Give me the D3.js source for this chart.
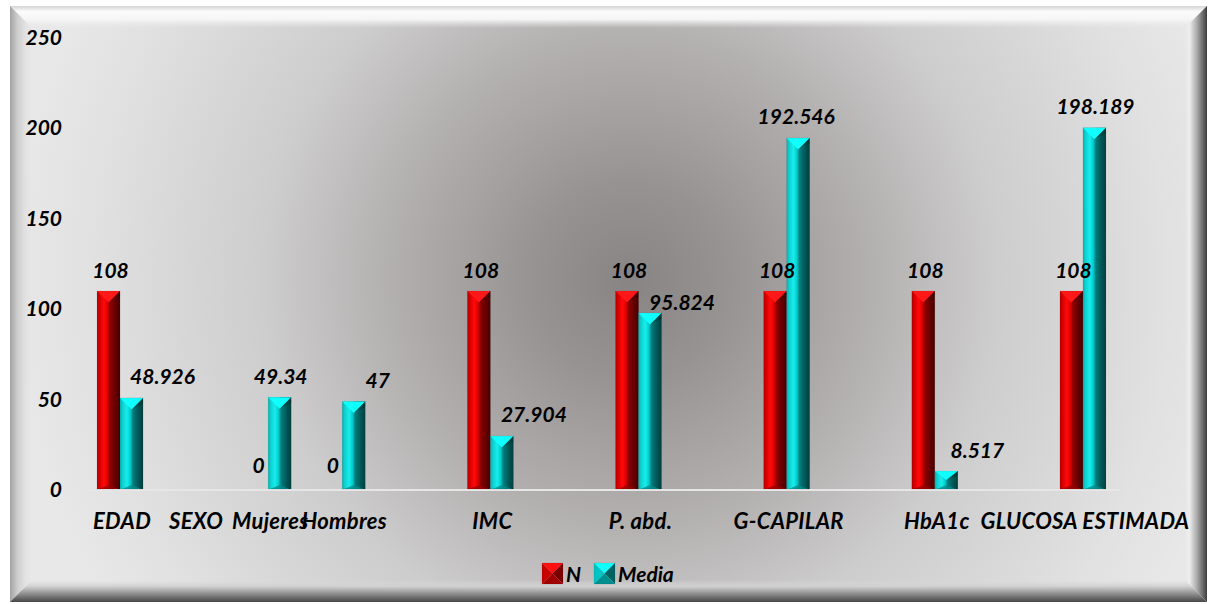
<!DOCTYPE html>
<html>
<head>
<meta charset="utf-8">
<script src="https://cdn.jsdelivr.net/npm/d3@7"></script>
<style>
  html, body { margin: 0; padding: 0; background: #ffffff; }
  svg { display: block; }
  text { font-family: Lato, "Open Sans", sans-serif; font-weight: 700; font-style: italic; fill: #000; }
</style>
</head>
<body>
<svg id="chart" width="1208" height="604"></svg>
<script>
// Categories along the x axis (empty strings are spacer slots)
const categories = ["EDAD", "SEXO", "Mujeres", "Hombres", "", "IMC", "", "P. abd.", "", "G-CAPILAR", "", "HbA1c", "", "GLUCOSA ESTIMADA"];
// Series values
const nValues     = [108, null, 0, 0, null, 108, null, 108, null, 108, null, 108, null, 108];
const mediaValues = [48.926, null, 49.34, 47, null, 27.904, null, 95.824, null, 192.546, null, 8.517, null, 198.189];
const seriesNames = ["N", "Media"];
const yTicks = [0, 50, 100, 150, 200, 250];

// Hand-placed offsets for the "Media" value labels (dx, dy in px)
const mediaLabelNudge = [[30, 0], [0, 0], [0, 0], [23, 0], [0, 0], [31, 0], [0, 0], [31, 10], [0, 0], [-3, 0], [0, 0], [30, 0], [0, 0], [0, 0]];

const W = 1208, H = 604;
const svg = d3.select("#chart");
const defs = svg.append("defs");

// ---- frame and background ----
function linGrad(id, x1, y1, x2, y2, stops) {
  const g = defs.append("linearGradient").attr("id", id)
    .attr("x1", x1).attr("y1", y1).attr("x2", x2).attr("y2", y2);
  stops.forEach(s => g.append("stop").attr("offset", s[0]).attr("stop-color", s[1]));
  return g;
}

const bg = defs.append("radialGradient").attr("id", "bgRad")
  .attr("gradientUnits", "userSpaceOnUse")
  .attr("cx", 630).attr("cy", 280).attr("r", 620);
[[0, "#888484"], [0.16, "#979393"], [0.26, "#a4a0a0"], [0.4, "#b4b1b1"], [0.59, "#cecdcd"], [0.87, "#e1e1e1"], [1, "#e8e8e8"]]
  .forEach(s => bg.append("stop").attr("offset", s[0]).attr("stop-color", s[1]));

const L = 10, T = 6, R = 1207, B = 602, bw = 22;
svg.append("rect").attr("x", L).attr("y", T).attr("width", R - L).attr("height", B - T).attr("fill", "url(#bgRad)");

linGrad("bevTop", 0, 0, 0, 1, [[0, "#d4d4d4"], [0.25, "#fbfbfb"], [0.6, "#f6f6f6"], [1, "rgba(236,236,236,0)"]]);
linGrad("bevLeft", 0, 0, 1, 0, [[0, "#a2a2a2"], [0.35, "#cfcfcf"], [0.7, "#e2e2e2"], [1, "rgba(228,228,228,0)"]]);
linGrad("bevRight", 0, 0, 1, 0, [[0, "rgba(236,236,236,0)"], [0.2, "#eeeeee"], [0.55, "#a8a8a8"], [1, "#3e3e3e"]]);
linGrad("bevBottom", 0, 0, 0, 1, [[0, "rgba(220,220,220,0)"], [0.3, "#cfcfcf"], [0.65, "#8a8a8a"], [1, "#464646"]]);

const poly = pts => pts.map(p => p.join(",")).join(" ");
svg.append("polygon").attr("points", poly([[L, T], [R, T], [R - bw, T + bw], [L + bw, T + bw]])).attr("fill", "url(#bevTop)");
svg.append("polygon").attr("points", poly([[L, T], [L + bw, T + bw], [L + bw, B - bw], [L, B]])).attr("fill", "url(#bevLeft)");
svg.append("polygon").attr("points", poly([[R, T], [R, B], [R - bw, B - bw], [R - bw, T + bw]])).attr("fill", "url(#bevRight)");
svg.append("polygon").attr("points", poly([[L, B], [L + bw, B - bw], [R - bw, B - bw], [R, B]])).attr("fill", "url(#bevBottom)");

// ---- scales ----
const x = d3.scaleBand().domain(d3.range(categories.length)).range([83, 1120]).paddingInner(0).paddingOuter(0);
const y = d3.scaleLinear().domain([0, 250]).range([489, 36.5]);
const barW = 23;
const cap = 2.5; // bevel cap rises slightly above the value line

// ---- axis line ----
svg.append("line").attr("x1", 83).attr("x2", 1120).attr("y1", y(0) + 1).attr("y2", y(0) + 1)
  .attr("stroke", "#e6e6e6").attr("stroke-width", 2);

// ---- y tick labels ----
const yAxis = d3.axisLeft(y).tickValues(yTicks).tickSize(0).tickPadding(0);
const gy = svg.append("g").attr("transform", "translate(62,0)").call(yAxis);
gy.select(".domain").remove();
gy.selectAll("text").attr("font-size", 21).attr("dy", "0.32em").attr("y", 1)
  .style("font-family", "Lato, 'Open Sans', sans-serif").style("font-weight", 700).style("font-style", "italic").attr("fill", "#000");

// ---- x category labels ----
const xAxis = d3.axisBottom(x).tickFormat(i => categories[i]).tickSize(0).tickPadding(0);
const gx = svg.append("g").attr("transform", "translate(2,521)").call(xAxis);
gx.select(".domain").remove();
gx.selectAll("text").attr("font-size", 22).attr("y", 0).attr("dy", "0.36em").style("letter-spacing", "0.3px")
  .style("font-family", "Lato, 'Open Sans', sans-serif").style("font-weight", 700).style("font-style", "italic").attr("fill", "#000");

// ---- bar gradients ----
const palettes = {
  red: {
    face: [[0, "#b20000"], [0.12, "#d80000"], [0.3, "#ff0a0a"], [0.45, "#e00000"], [0.56, "#8e0000"], [0.82, "#620000"], [1, "#480000"]],
    top: "#ff1818", bottom: "#9a0000",
    box: { top: "#ff1010", left: "#c80000", right: "#7a0000", bottom: "#a00000" }
  },
  cyan: {
    face: [[0, "#00b4b4"], [0.12, "#10d2d2"], [0.3, "#18ecec"], [0.45, "#00cccc"], [0.56, "#007c7c"], [0.82, "#005454"], [1, "#003e3e"]],
    top: "#10ffff", bottom: "#008c8c",
    box: { top: "#10ffff", left: "#00c4c4", right: "#006262", bottom: "#009090" }
  }
};
Object.entries(palettes).forEach(([k, p]) => linGrad("face-" + k, 0, 0, 1, 0, p.face));

function drawBar(g, x0, v, pal) {
  const p = palettes[pal];
  const yb = y(0), yt = y(v) - cap, xc = x0 + barW / 2, b = Math.min(barW / 2, (yb - yt) / 2);
  g.append("rect").attr("x", x0).attr("y", yt).attr("width", barW).attr("height", yb - yt).attr("fill", "url(#face-" + pal + ")");
  g.append("polygon").attr("points", poly([[x0, yt], [x0 + barW, yt], [xc, yt + b]])).attr("fill", p.top);
  g.append("polygon").attr("points", poly([[x0 + barW / 2, yt + b], [x0 + barW, yt], [x0 + barW, yt + b * 0.5]]))
    .attr("fill", "rgba(0,0,0,0.18)");
  const bb = Math.min(4, b);
  g.append("polygon").attr("points", poly([[x0 + 2, yb], [x0 + barW - 2, yb], [xc, yb - bb]])).attr("fill", p.bottom).attr("opacity", 0.8);
  g.append("rect").attr("x", x0).attr("y", yt).attr("width", barW).attr("height", yb - yt)
    .attr("fill", "none").attr("stroke", "rgba(0,0,0,0.12)").attr("stroke-width", 0.6);
}

const bars = svg.append("g");
categories.forEach((c, i) => {
  const cx = x(i) + x.bandwidth() / 2;
  if (nValues[i] !== null && nValues[i] > 0) drawBar(bars, cx - barW, nValues[i], "red");
  if (mediaValues[i] !== null) drawBar(bars, cx, mediaValues[i], "cyan");
});

// ---- value labels ----
const labels = svg.append("g");
categories.forEach((c, i) => {
  const cx = x(i) + x.bandwidth() / 2;
  if (nValues[i] !== null) {
    labels.append("text").attr("x", cx - barW / 2 + 2).attr("y", y(nValues[i]) - 16)
      .attr("text-anchor", "middle").attr("font-size", 21).text(d3.format("~g")(nValues[i]));
  }
  if (mediaValues[i] !== null) {
    const [dx, dy] = mediaLabelNudge[i];
    labels.append("text").attr("x", cx + barW / 2 + 1 + dx).attr("y", y(mediaValues[i]) - 16 + dy)
      .attr("text-anchor", "middle").attr("font-size", 21).text(String(mediaValues[i]));
  }
});

// ---- legend ----
function legendBox(g, x0, y0, s, pal) {
  const c = palettes[pal].box, xc = x0 + s / 2, yc = y0 + s / 2;
  g.append("polygon").attr("points", poly([[x0, y0], [x0 + s, y0], [xc, yc]])).attr("fill", c.top);
  g.append("polygon").attr("points", poly([[x0, y0], [xc, yc], [x0, y0 + s]])).attr("fill", c.left);
  g.append("polygon").attr("points", poly([[x0 + s, y0], [x0 + s, y0 + s], [xc, yc]])).attr("fill", c.right);
  g.append("polygon").attr("points", poly([[x0, y0 + s], [x0 + s, y0 + s], [xc, yc]])).attr("fill", c.bottom);
  g.append("rect").attr("x", x0).attr("y", y0).attr("width", s).attr("height", s).attr("fill", "none")
    .attr("stroke", "rgba(0,0,0,0.15)").attr("stroke-width", 0.6);
}
const legend = svg.append("g");
const legendItems = [{ name: seriesNames[0], pal: "red", bx: 542, tx: 566 }, { name: seriesNames[1], pal: "cyan", bx: 594, tx: 618 }];
legendItems.forEach(it => {
  legendBox(legend, it.bx, 563, 21, it.pal);
  legend.append("text").attr("x", it.tx).attr("y", 574).attr("dy", "0.36em").attr("font-size", 21).text(it.name);
});
</script>
</body>
</html>
